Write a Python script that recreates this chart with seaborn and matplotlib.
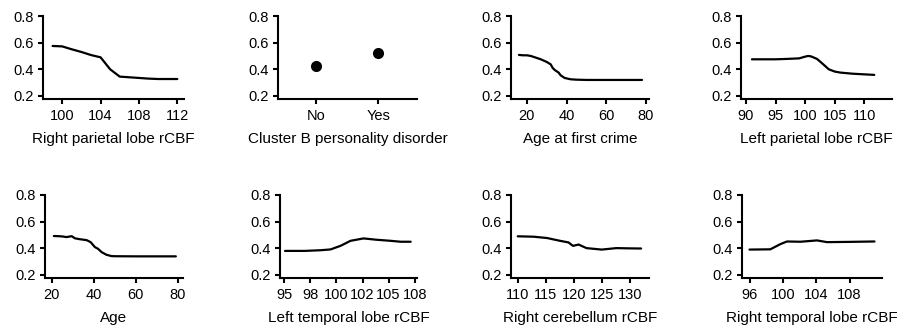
import matplotlib
matplotlib.use("Agg")
import matplotlib.pyplot as plt
import numpy as np
import pandas as pd
import seaborn as sns
from matplotlib.ticker import FormatStrFormatter

# Partial dependence curves
right_parietal_x = [99, 100, 101, 102, 103, 104, 105, 106, 107, 108, 109, 110, 111, 112]
right_parietal_y = [0.575, 0.572, 0.55, 0.53, 0.507, 0.49, 0.40, 0.345, 0.34, 0.335, 0.33, 0.327, 0.327, 0.327]

cluster_b_cat = ["No", "Yes"]
cluster_b_y = [0.425, 0.52]

first_crime_x = [16, 18, 20, 22, 24, 27, 30, 32, 33, 34, 36, 37, 39, 42, 45, 50, 60, 70, 78]
first_crime_y = [0.508, 0.505, 0.505, 0.50, 0.49, 0.475, 0.455, 0.437, 0.41, 0.395, 0.375, 0.355,
                 0.335, 0.325, 0.322, 0.32, 0.32, 0.32, 0.32]

left_parietal_x = [91, 93, 95, 97, 99, 100, 100.5, 101, 102, 103, 104, 105, 106, 108, 110, 111.7]
left_parietal_y = [0.475, 0.475, 0.475, 0.478, 0.482, 0.495, 0.50, 0.497, 0.478, 0.44, 0.40,
                   0.383, 0.375, 0.367, 0.362, 0.358]

age_x = [21, 23, 25, 27, 29.5, 31, 33, 36.6, 38.5, 40.5, 42, 43.7, 46, 48.4, 50, 60, 70, 79]
age_y = [0.491, 0.49, 0.488, 0.483, 0.49, 0.474, 0.468, 0.46, 0.445, 0.408, 0.395, 0.37,
         0.35, 0.34, 0.339, 0.338, 0.338, 0.338]

left_temporal_x = [95.07, 97, 98.6, 99.6, 100.6, 101.6, 102.9, 104.2, 105.6, 106.6, 107.6]
left_temporal_y = [0.379, 0.379, 0.384, 0.39, 0.417, 0.455, 0.473, 0.463, 0.455, 0.448, 0.448]
left_temporal_ticks = [95, 97.6, 100.2, 102.8, 105.4, 108]
left_temporal_labels = ["95", "98", "100", "102", "105", "108"]

right_cerebellum_x = [110, 112.8, 115.2, 117.5, 119, 119.8, 120.8, 122.2, 124.9, 127.5, 130, 131.9]
right_cerebellum_y = [0.489, 0.486, 0.476, 0.455, 0.443, 0.417, 0.427, 0.40, 0.389, 0.40, 0.398, 0.397]

right_temporal_x = [96, 98.5, 99.7, 100.5, 102.1, 104.1, 105.3, 108, 111]
right_temporal_y = [0.389, 0.391, 0.43, 0.45, 0.448, 0.458, 0.445, 0.447, 0.45]

W, H = 897, 332

sns.set_style("ticks")
plt.rcParams["font.family"] = ["Liberation Sans", "DejaVu Sans"]
plt.rcParams["axes.labelcolor"] = "black"
plt.rcParams["text.color"] = "black"

fig = plt.figure(figsize=(W / 100, H / 100), dpi=100)


def make_axes(left, top, right, bottom):
    # positions in pixels from the top-left corner
    return fig.add_axes([left / W, 1 - bottom / H, (right - left) / W, (bottom - top) / H])


def style_axes(ax, xlabel, xlim, xticks, xticklabels=None, ylim=(0.177, 0.8)):
    ax.set_ylim(*ylim)
    ax.set_yticks([0.2, 0.4, 0.6, 0.8])
    ax.yaxis.set_major_formatter(FormatStrFormatter("%.1f"))
    ax.set_xlim(*xlim)
    ax.set_xticks(xticks)
    if xticklabels is not None:
        ax.set_xticklabels(xticklabels)
    ax.set_xlabel(xlabel, fontsize=11, labelpad=7, color="black")
    ax.set_ylabel("")
    sns.despine(ax=ax)
    for side in ["left", "bottom"]:
        ax.spines[side].set_linewidth(1.5)
        ax.spines[side].set_color("black")
    ax.tick_params(axis="both", length=3.5, width=1.5, color="black",
                   labelsize=10.5, pad=3.5, labelcolor="black")


line_kw = dict(color="black", linewidth=1.6)

ax1 = make_axes(43, 16, 184, 99)
sns.lineplot(x=right_parietal_x, y=right_parietal_y, ax=ax1, **line_kw)
style_axes(ax1, "Right parietal lobe rCBF", (98.0, 112.7), [100, 104, 108, 112])

ax2 = make_axes(278, 16, 417, 99)
cb = pd.DataFrame({"cat": cluster_b_cat, "val": cluster_b_y})
sns.stripplot(data=cb, x="cat", y="val", ax=ax2, jitter=False, color="black", size=8)
style_axes(ax2, "Cluster B personality disorder", (-0.62, 1.63), [0, 1], cluster_b_cat)

ax3 = make_axes(511, 16, 649, 99)
sns.lineplot(x=first_crime_x, y=first_crime_y, ax=ax3, **line_kw)
style_axes(ax3, "Age at first crime", (12, 81.5), [20, 40, 60, 80])

ax4 = make_axes(741, 16, 892, 99)
sns.lineplot(x=left_parietal_x, y=left_parietal_y, ax=ax4, **line_kw)
style_axes(ax4, "Left parietal lobe rCBF", (89.15, 114.7), [90, 95, 100, 105, 110])

ax5 = make_axes(45, 195, 183, 278)
sns.lineplot(x=age_x, y=age_y, ax=ax5, **line_kw)
style_axes(ax5, "Age", (16.8, 82.4), [20, 40, 60, 80], ylim=(0.175, 0.8))

ax6 = make_axes(280, 195, 417, 278)
sns.lineplot(x=left_temporal_x, y=left_temporal_y, ax=ax6, **line_kw)
style_axes(ax6, "Left temporal lobe rCBF", (94.57, 108.23), left_temporal_ticks,
           left_temporal_labels, ylim=(0.175, 0.8))

ax7 = make_axes(511, 195, 649, 278)
sns.lineplot(x=right_cerebellum_x, y=right_cerebellum_y, ax=ax7, **line_kw)
style_axes(ax7, "Right cerebellum rCBF", (108.8, 133.3), [110, 115, 120, 125, 130],
           ylim=(0.175, 0.8))

ax8 = make_axes(742, 195, 882, 278)
sns.lineplot(x=right_temporal_x, y=right_temporal_y, ax=ax8, **line_kw)
style_axes(ax8, "Right temporal lobe rCBF", (95.1, 111.9), [96, 100, 104, 108],
           ylim=(0.175, 0.8))

fig.savefig("out.png", dpi=100)
